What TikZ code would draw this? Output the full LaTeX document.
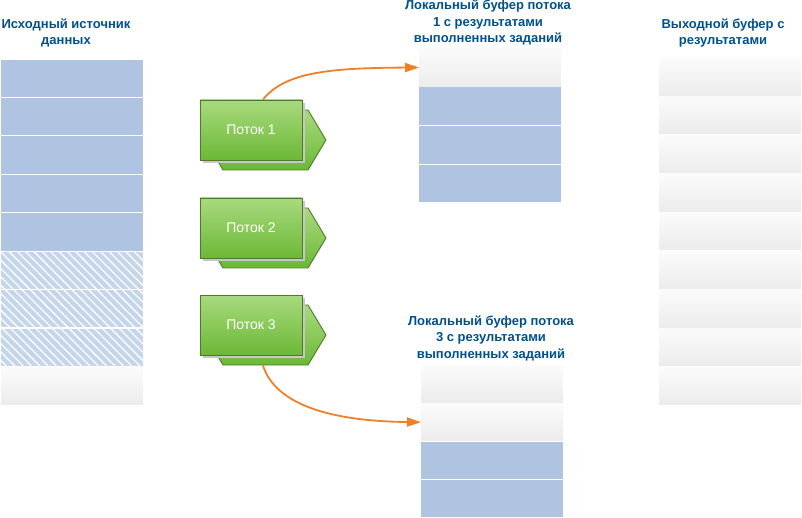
\documentclass[tikz,border=0pt]{standalone}
\usepackage{fontspec}
\setmainfont{Liberation Sans}
\usetikzlibrary{arrows.meta,patterns.meta,calc,shadows}
\definecolor{cellblue}{RGB}{175,196,224}
\definecolor{hatchblue}{RGB}{196,213,236}
\definecolor{graytop}{RGB}{251,251,251}
\definecolor{graybot}{RGB}{236,236,236}
\definecolor{greentop}{RGB}{168,218,126}
\definecolor{greenbot}{RGB}{108,184,54}
\definecolor{greenline}{RGB}{80,122,42}
\definecolor{titleblue}{RGB}{0,80,140}
\definecolor{arroworange}{RGB}{240,128,40}
\tikzset{
  cell/.style={inner sep=0pt, outer sep=0pt, minimum width=142pt, minimum height=37.2pt, draw=none},
  bluecell/.style={cell, fill=cellblue},
  graycell/.style={cell, top color=graytop, bottom color=graybot},
  hatchcell/.style={cell, fill=hatchblue, postaction={pattern={Lines[angle=-45,distance=5.9pt,line width=1.3pt]}, pattern color=white}},
  title/.style={anchor=north, inner sep=0pt, align=center, text=titleblue, font=\bfseries\fontsize{13}{16.5}\selectfont},
  threadbox/.style={draw=greenline, line width=0.9pt, top color=greentop, bottom color=greenbot, minimum width=102pt, minimum height=60pt, inner sep=0pt, text=white, font=\fontsize{14}{16}\selectfont, drop shadow={shadow xshift=3pt, shadow yshift=-3pt, fill=black!22, opacity=1}},
  threadback/.style={draw=greenline, line width=0.9pt, top color=greentop, bottom color=greenbot},
  flow/.style={draw=arroworange, line width=1.8pt, -{Triangle[length=14pt,width=9pt]}}
}
\begin{document}
\begin{tikzpicture}[x=1pt,y=-1pt]
\useasboundingbox (0,0) rectangle (802,518);
% source column
\foreach \i in {1,...,5}{
  \node[bluecell] (s\i) at (72, {59+(\i-0.5)*38.44}) {};
}
\foreach \i in {6,7,8}{
  \node[hatchcell] (s\i) at (72, {59+(\i-0.5)*38.44}) {};
}
\node[graycell] (s9) at (72, {59+8.5*38.44}) {};
\node[title] (tsrc) at (66,18.4) {Исходный источник\\данных};
% buffer 1
\node[graycell, minimum height=38pt] (a1) at (490, 67.5) {};
\foreach \i in {2,3,4}{
  \node[bluecell, minimum height=37.6pt] (a\i) at (490, {48+(\i-0.5)*38.75}) {};
}
\node[title] (tb1) at (488,0) {Локальный буфер потока\\1 с результатами\\выполненных заданий};
% buffer 3
\foreach \i in {1,2}{
  \node[graycell, minimum height=37pt] (c\i) at (492, {365+(\i-0.5)*38.1}) {};
}
\foreach \i in {3,4}{
  \node[bluecell, minimum height=37pt] (c\i) at (492, {365+(\i-0.5)*38.1}) {};
}
\node[title] (tb3) at (491,315.4) {Локальный буфер потока\\3 с результатами\\выполненных заданий};
% output buffer
\foreach \i in {1,...,9}{
  \node[graycell, minimum height=37.4pt] (o\i) at (730, {57+(\i-0.5)*38.67}) {};
}
\node[title] (tout) at (723,18.4) {Выходной буфер с\\результатами};
% threads
\foreach \n/\t in {1/100,2/198,3/295}{
  \path[threadback] (223,\t+10) -- (308,\t+10) -- (326,\t+40) -- (308,\t+70) -- (223,\t+70) -- (205,\t+40) -- cycle;
  \node[threadbox] (t\n) at (251,\t+30) {Поток \n};
}
\coordinate (t1s) at ([xshift=12pt]t1.north);
\coordinate (t3s) at ([xshift=12pt,yshift=-10pt]t3.south);
\draw[flow] (t1s) .. controls (285,72) and (330,68) .. (a1.west);
\draw[flow] (t3s) .. controls (272,395) and (310,421) .. (c2.west);
\end{tikzpicture}
\end{document}
